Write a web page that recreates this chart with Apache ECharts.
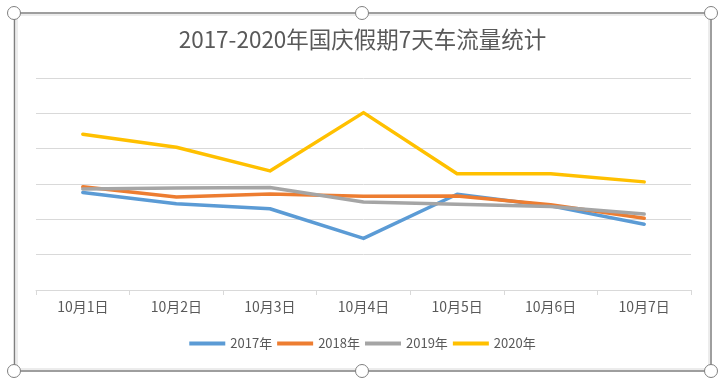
<!DOCTYPE html>
<html><head><meta charset="utf-8">
<script src="https://cdn.jsdelivr.net/npm/echarts@6/dist/echarts.min.js"></script>
<style>html,body{margin:0;padding:0;background:#fff}#c{width:725px;height:388px}</style>
</head><body><div id="c"></div>
<script>
const categories = ['10月1日','10月2日','10月3日','10月4日','10月5日','10月6日','10月7日'];
const seriesNames = ['2017年','2018年','2019年','2020年'];
const s2017 = [2.76, 2.44, 2.30, 1.46, 2.71, 2.38, 1.86];
const s2018 = [2.92, 2.63, 2.72, 2.65, 2.66, 2.41, 2.03];
const s2019 = [2.86, 2.89, 2.90, 2.49, 2.43, 2.36, 2.15];
const s2020 = [4.41, 4.04, 3.37, 5.02, 3.29, 3.29, 3.06];
const colors = ['#5B9BD5','#ED7D31','#A5A5A5','#FFC000'];
const allData = [s2017, s2018, s2019, s2020];

const font = '"Noto Sans CJK SC", "Noto Sans", sans-serif';
const chart = echarts.init(document.getElementById('c'));
const handles = [[14,13],[362,13],[711,13],[14,371],[362,371],[711,371]].map(p => ({
  type:'circle', shape:{cx:p[0], cy:p[1], r:6.5}, z:100,
  style:{fill:'#fff', stroke:'#7f7f7f', lineWidth:1}
}));
chart.setOption({
  animation:false,
  title:{text:'2017-2020年国庆假期7天车流量统计', left:'center', top:23,
    textStyle:{fontFamily:font, fontSize:22.5, fontWeight:'normal', color:'#595959'}},
  legend:{top:332, left:'center', itemWidth:36, itemHeight:4, itemGap:5,
    icon:'rect',
    textStyle:{fontFamily:font, fontSize:13, color:'#595959'},
    data:seriesNames},
  grid:{left:36, right:34, top:78, bottom:98, containLabel:false},
  xAxis:{type:'category', data:categories, boundaryGap:true,
    axisLine:{lineStyle:{color:'#d9d9d9', width:1}},
    axisTick:{show:true, length:5, lineStyle:{color:'#d9d9d9'}},
    axisLabel:{fontFamily:font, fontSize:14, color:'#595959', margin:10}},
  yAxis:{type:'value', min:0, max:6, interval:1,
    axisLabel:{show:false}, axisLine:{show:false}, axisTick:{show:false},
    splitLine:{lineStyle:{color:'#d9d9d9', width:1}}},
  series: seriesNames.map((n,i)=>({
    name:n, type:'line', data:allData[i], symbol:'none',
    lineStyle:{color:colors[i], width:3.5, cap:'round', join:'round'},
    itemStyle:{color:colors[i]}
  })),
  graphic:[
    {type:'rect', shape:{x:17, y:15, width:692, height:354}, z:90, silent:true,
      style:{fill:null, stroke:'#d9d9d9', lineWidth:1}},
    {type:'rect', shape:{x:14.5, y:13, width:696.5, height:358}, z:95, silent:true,
      style:{fill:null, stroke:'#7f7f7f', lineWidth:1.5}},
    ...handles
  ]
});
</script></body></html>
